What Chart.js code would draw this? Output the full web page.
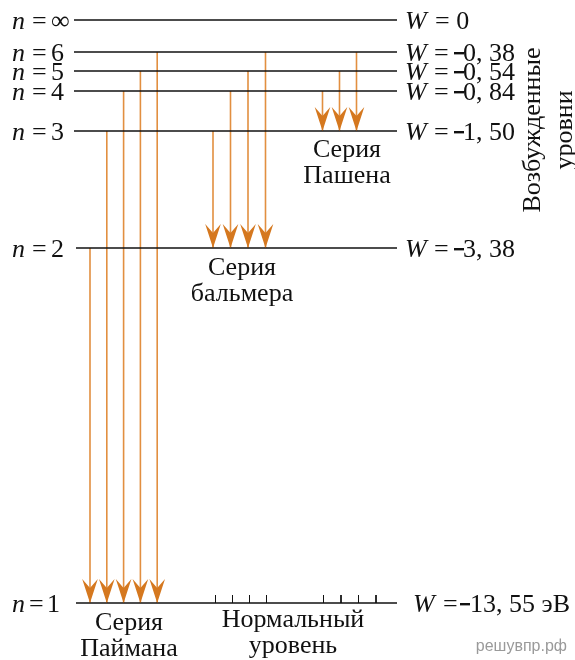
<!DOCTYPE html>
<html lang="ru">
<head>
<meta charset="UTF-8" />
<title>Энергетические уровни атома водорода</title>
<script src="https://cdn.jsdelivr.net/npm/chart.js"></script>
<style>
    body {
        margin: 0;
        background: #fff;
    }

    .wrap {
        position: relative;
        width: 575px;
        height: 660px;
    }
</style>
</head>
<body>
<div class="wrap"><canvas id="diagrama"></canvas></div>

<script>
    // Уровни: номер n, энергия W (эВ) и положение уровня на схеме (сверху вниз)
    const levelNames = ['∞', '6', '5', '4', '3', '2', '1'];
    const levelN = [Infinity, 6, 5, 4, 3, 2, 1];
    const energyLabels = ['0', '0, 38', '0, 54', '0, 84', '1, 50', '3, 38', '13, 55'];
    const levelDepth = [0, 32, 51, 71, 111, 228, 583];

    // Серии: переходы с уровней ...From на уровень ...To
    const lymanFrom = [2, 3, 4, 5, 6];
    const lymanTo = 1;
    const balmerFrom = [3, 4, 5, 6];
    const balmerTo = 2;
    const paschenFrom = [4, 5, 6];
    const paschenTo = 3;

    const seriesNames = [['Серия', 'Паймана'], ['Серия', 'бальмера'], ['Серия', 'Пашена']];
    const groundNames = ['Нормальный', 'уровень'];
    const sideTitle = ['Возбужденные', 'уровни'];

    const serif = "'Liberation Serif', 'DejaVu Serif', serif";
    const corSeta = '#e28f40';
    const corPonta = '#d5781f';

    function depthOf(n) {
        return levelDepth[levelN.indexOf(n)];
    }

    const datasets = [];

    // Линии уровней
    levelDepth.forEach((d, i) => {
        datasets.push({
            data: [{ x: i >= 5 ? 76 : 74, y: d }, { x: 397, y: d }],
            borderColor: '#111',
            borderWidth: 1.5
        });
    });

    // Засечки на основном уровне
    [[215.5, 17], [323.5, 17.5]].forEach(([x0, passo]) => {
        for (let k = 0; k < 4; k++) {
            const x = x0 + k * passo;
            datasets.push({
                data: [{ x, y: levelDepth[6] - 8 }, { x, y: levelDepth[6] }],
                borderColor: '#111',
                borderWidth: 1
            });
        }
    });

    // Стрелки переходов
    function addSeries(fromList, to, x0, passo) {
        fromList.forEach((n, k) => {
            const x = x0 + k * passo;
            datasets.push({
                data: [{ x, y: depthOf(n) }, { x, y: depthOf(to) }],
                borderColor: corSeta,
                borderWidth: 1.6,
                arrow: true
            });
        });
    }
    addSeries(lymanFrom, lymanTo, 90, 16.8);
    addSeries(balmerFrom, balmerTo, 213, 17.5);
    addSeries(paschenFrom, paschenTo, 322.5, 17);

    const extras = {
        id: 'extras',
        afterDatasetsDraw(chart) {
            const { ctx, scales: { x, y } } = chart;
            ctx.save();

            // наконечники стрелок
            chart.data.datasets.forEach((ds, i) => {
                if (!ds.arrow) return;
                const p = chart.getDatasetMeta(i).data[1];
                const tx = p.x, ty = p.y;
                ctx.fillStyle = corPonta;
                ctx.beginPath();
                ctx.moveTo(tx, ty);
                ctx.lineTo(tx - 7.8, ty - 24);
                ctx.lineTo(tx, ty - 15);
                ctx.lineTo(tx + 7.8, ty - 24);
                ctx.closePath();
                ctx.fill();
            });

            ctx.fillStyle = '#111';
            ctx.textBaseline = 'alphabetic';

            // подписи n = ...
            levelNames.forEach((nome, i) => {
                const py = y.getPixelForValue(levelDepth[i]) + 9;
                const x0 = x.getPixelForValue(12);
                ctx.textAlign = 'left';
                ctx.font = 'italic 26px ' + serif;
                ctx.fillText('n', x0, py);
                ctx.font = '26px ' + serif;
                if (i === 6) {
                    ctx.fillText('=', x0 + 17, py);
                    ctx.fillText(nome, x0 + 35, py);
                } else {
                    ctx.fillText('=', x0 + 20, py);
                    ctx.fillText(nome, x0 + 39, py);
                }
            });

            // подписи W = ...
            energyLabels.forEach((val, i) => {
                const py = y.getPixelForValue(levelDepth[i]) + 9;
                const x0 = x.getPixelForValue(i === 6 ? 413 : 405);
                ctx.font = 'italic 26px ' + serif;
                ctx.fillText('W', x0, py);
                ctx.font = '26px ' + serif;
                if (i === 0) {
                    ctx.fillText('= ' + val, x0 + 30, py);
                    return;
                }
                if (i === 6) {
                    ctx.fillText('=', x0 + 30, py);
                    ctx.fillRect(x0 + 47, py - 9, 10, 2.4);
                    ctx.fillText(val + ' эВ', x0 + 57, py);
                } else {
                    ctx.fillText('=', x0 + 29, py);
                    ctx.fillRect(x0 + 49, py - 9, 10, 2.4);
                    ctx.fillText(val, x0 + 58, py);
                }
            });

            // названия серий
            ctx.textAlign = 'center';
            ctx.textBaseline = 'middle';
            ctx.font = '26px ' + serif;
            const blocos = [
                [seriesNames[0], 129, 623],
                [seriesNames[1], 242, 268],
                [seriesNames[2], 347, 150],
                [groundNames, 293, 620]
            ];
            blocos.forEach(([linhas, cx, cy]) => {
                linhas.forEach((t, k) => {
                    ctx.fillText(t, x.getPixelForValue(cx), y.getPixelForValue(cy - 20 + k * 26));
                });
            });

            // вертикальная подпись
            ctx.translate(x.getPixelForValue(533), y.getPixelForValue(110));
            ctx.rotate(-Math.PI / 2);
            ctx.fillText(sideTitle[0], 0, 0);
            ctx.fillText(sideTitle[1], 0, 32);
            ctx.restore();

            // водяной знак
            ctx.save();
            ctx.fillStyle = '#9a9a9a';
            ctx.font = "16px 'Liberation Sans', Arial, sans-serif";
            ctx.textAlign = 'right';
            ctx.textBaseline = 'middle';
            ctx.fillText('решувпр.рф', x.getPixelForValue(567), y.getPixelForValue(627));
            ctx.restore();
        }
    };

    new Chart(document.getElementById('diagrama'), {
        type: 'line',
        data: { datasets },
        options: {
            responsive: true,
            maintainAspectRatio: false,
            animation: false,
            layout: { padding: 0 },
            elements: { point: { radius: 0 } },
            scales: {
                x: { type: 'linear', min: 0, max: 575, display: false },
                y: { type: 'linear', min: -20, max: 640, reverse: true, display: false }
            },
            plugins: {
                legend: { display: false },
                tooltip: { enabled: false }
            }
        },
        plugins: [extras]
    });
</script>
</body>
</html>
